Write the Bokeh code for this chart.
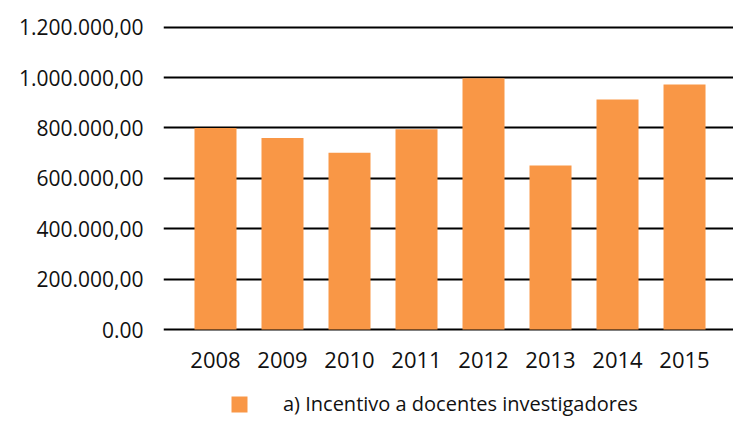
from bokeh.plotting import figure
from bokeh.models import ColumnDataSource, Range1d, FixedTicker, Legend, LegendItem
from bokeh.core.properties import value
from bokeh.embed import file_html
from bokeh.resources import INLINE

years = ["2008", "2009", "2010", "2011", "2012", "2013", "2014", "2015"]
values = [800000, 760000, 702000, 795000, 997000, 651000, 913000, 973000]
y_ticks = [0, 200000, 400000, 600000, 800000, 1000000, 1200000]
y_tick_labels = ["0.00", "200.000,00", "400.000,00", "600.000,00", "800.000,00",
                 "1.000.000,00", "1.200.000,00"]
series_name = "a) Incentivo a docentes investigadores"

FONT = "Open Sans"
ORANGE = "#F99746"

# layout (pixels)
W, H = 733, 417
FRAME_LEFT, FRAME_TOP = 163, 18
ZERO_PX = 329          # pixel row of the zero line
TOP_TICK_PX = 26.7     # pixel row of the top tick
per_px = y_ticks[-1] / (ZERO_PX - TOP_TICK_PX)
y_start = -(H - ZERO_PX) * per_px
y_end = y_ticks[-1] + (TOP_TICK_PX - FRAME_TOP) * per_px
year_label_y = -30 * per_px

xs = list(range(len(years)))
src = ColumnDataSource(dict(x=xs, top=values, year=years,
                            ly=[year_label_y] * len(years)))

p = figure(width=W, height=H, output_backend="svg", toolbar_location=None,
           x_range=Range1d(-0.776, 7.731), y_range=Range1d(y_start, y_end),
           min_border_left=FRAME_LEFT, min_border_right=0, min_border_top=FRAME_TOP,
           min_border_bottom=0)
p.outline_line_color = None
p.background_fill_color = "white"
p.xaxis.visible = False

r = p.vbar(x="x", top="top", width=0.627, source=src, fill_color=ORANGE, line_color=None)

p.text(x="x", y="ly", text="year", source=src, text_align="center",
       text_baseline="middle", text_font=value(FONT), text_font_size="22px",
       text_color="#111111")

p.xgrid.grid_line_color = None
p.ygrid.grid_line_color = "black"
p.ygrid.grid_line_width = 2
p.ygrid.ticker = FixedTicker(ticks=y_ticks)

p.yaxis.ticker = FixedTicker(ticks=y_ticks)
p.yaxis.major_label_overrides = {t: l for t, l in zip(y_ticks, y_tick_labels)}
p.yaxis.axis_line_color = None
p.yaxis.major_tick_line_color = None
p.yaxis.minor_tick_line_color = None
p.yaxis.major_tick_out = 0
p.yaxis.major_label_standoff = 20
p.yaxis.major_label_text_font = FONT
p.yaxis.major_label_text_font_size = "21px"
p.yaxis.major_label_text_color = "#111111"

legend = Legend(items=[LegendItem(label=series_name, renderers=[r])],
                location=(66, 0), orientation="horizontal",
                glyph_width=20, glyph_height=20, label_standoff=34,
                label_height=20, padding=0, margin=0, spacing=0,
                border_line_color=None, background_fill_alpha=0,
                label_text_font=FONT, label_text_font_size="20px",
                label_text_color="#111111")
p.add_layout(legend, "center")

open("out.html", "w").write(file_html(p, INLINE))
